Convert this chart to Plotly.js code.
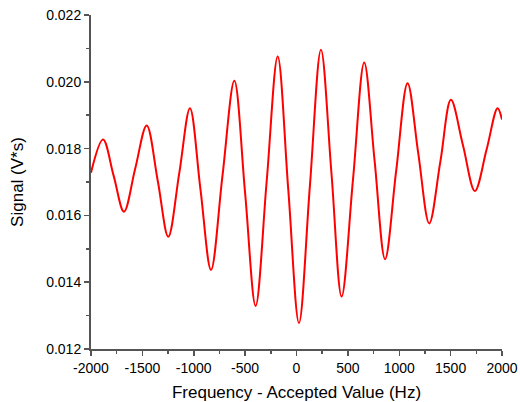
<!DOCTYPE html>
<html>
<head>
<meta charset="utf-8">
<script src="https://cdn.plot.ly/plotly-3.0.1.min.js"></script>
<style>html,body{margin:0;padding:0;background:#fff;}#chart{width:520px;height:402px;}</style>
</head>
<body>
<div id="chart"></div>
<script>
// Frequency offset (Hz): peaks, troughs and crossings
const freq = [-2000, -1883, -1780, -1679, -1570, -1458, -1350, -1248, -1140, -1037,
              -935, -832, -720, -605, -500, -398, -290, -183, -80, 24,
              130, 238, 340, 439, 550, 659, 760, 862, 970, 1081,
              1185, 1292, 1400, 1503, 1620, 1736, 1850, 1957, 2000];
// Signal (V*s)
const signal = [0.01728, 0.01827, 0.01719, 0.01611, 0.01740, 0.01869, 0.01703, 0.01536, 0.01729, 0.01921,
                0.01679, 0.01437, 0.01720, 0.02003, 0.01666, 0.01329, 0.01703, 0.02076, 0.01677, 0.01278,
                0.01687, 0.02096, 0.01727, 0.01357, 0.01708, 0.02058, 0.01764, 0.01469, 0.01733, 0.01996,
                0.01786, 0.01576, 0.01761, 0.01946, 0.01810, 0.01673, 0.01797, 0.01921, 0.01887];
const yTicks = [0.012, 0.014, 0.016, 0.018, 0.020, 0.022];
const yTickText = ['0.012', '0.014', '0.016', '0.018', '0.020', '0.022'];
const xTicks = [-2000, -1500, -1000, -500, 0, 500, 1000, 1500, 2000];

const fam = 'Liberation Sans, Arial, sans-serif';
const tickFont = {family: fam, size: 14, color: '#000'};
const titleFont = {family: fam, size: 17, color: '#000'};
Plotly.newPlot('chart', [{
  x: freq, y: signal, type: 'scatter', mode: 'lines',
  line: {color: '#ff0000', width: 2, shape: 'spline', smoothing: 1}
}], {
  width: 520, height: 402,
  margin: {l: 91, r: 18, t: 15, b: 53},
  paper_bgcolor: '#fff', plot_bgcolor: '#fff',
  showlegend: false,
  font: tickFont,
  xaxis: {
    range: [-2000, 2000], tickvals: xTicks, ticktext: xTicks.map(String),
    showgrid: false, zeroline: false, showline: true, linecolor: '#555', linewidth: 2,
    ticks: 'outside', ticklen: 5, tickwidth: 1.5, tickcolor: '#555',
    minor: {dtick: 250, ticks: 'outside', ticklen: 3, tickwidth: 1.5, tickcolor: '#555', showgrid: false},
    tickfont: tickFont,
    title: {text: 'Frequency - Accepted Value (Hz)', font: titleFont, standoff: 12}
  },
  yaxis: {
    range: [0.012, 0.022], tickvals: yTicks, ticktext: yTickText,
    showgrid: false, zeroline: false, showline: true, linecolor: '#555', linewidth: 2,
    ticks: 'outside', ticklen: 5, tickwidth: 1.5, tickcolor: '#555',
    minor: {dtick: 0.001, ticks: 'outside', ticklen: 3, tickwidth: 1.5, tickcolor: '#555', showgrid: false},
    tickfont: tickFont,
    title: {text: 'Signal (V*s)', font: titleFont, standoff: 18}
  }
}, {staticPlot: true});
</script>
</body>
</html>
